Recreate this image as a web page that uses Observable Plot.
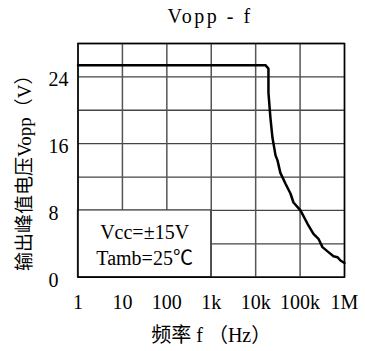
<!DOCTYPE html>
<html>
<head>
<meta charset="utf-8">
<script src="https://cdn.jsdelivr.net/npm/d3@7"></script>
<script src="https://cdn.jsdelivr.net/npm/@observablehq/plot@0.6"></script>
<style>
  html, body { margin: 0; padding: 0; background: #fff; overflow: hidden; }
  #wrap { position: relative; width: 365px; height: 351px; }
  #title {
    position: absolute; left: 110px; top: 6px; width: 200px;
    text-align: center; white-space: pre; line-height: 20px;
    font-family: 'Liberation Serif', 'Noto Sans CJK SC', serif;
    font-size: 20px; letter-spacing: 2.5px; color: #000;
  }
</style>
</head>
<body>
<div id="wrap">
  <div id="title"></div>
</div>
<script>
// ---- data ----
const title = "Vopp - f";
const xLabel = "频率 f （Hz）";
const yLabel = "输出峰值电压Vopp（V）";
const xTicks = [1, 10, 100, 1000, 10000, 100000, 1000000];
const xTickLabels = ["1", "10", "100", "1k", "10k", "100k", "1M"];
const yTicks = [0, 8, 16, 24];
const yGrid = [0, 4, 8, 12, 16, 20, 24, 28];
const freq = [1, 16600, 19400, 19400, 21500, 23900, 28000, 31000, 36000, 47000, 61000, 71000,
              102000, 147000, 200000, 259000, 319000, 435000, 565000, 695000, 811000, 1000000];
const vopp = [25.4, 25.4, 25.0, 22.1, 19.1, 16.7, 14.6, 14.0, 12.5, 11.2, 10.0, 8.95,
              8.0, 6.4, 5.2, 4.6, 3.6, 3.0, 2.5, 2.4, 2.0, 1.7];
const legendLines = ["Vcc=±15V", "Tamb=25℃"];
const legendBox = [{x1: 1, x2: 1000, y1: 0, y2: 8}];

document.getElementById("title").textContent = title;

const fontFamily = "'Liberation Serif', 'Noto Sans CJK SC', serif";
const gridColor = "#444";

const chart = Plot.plot({
  width: 365,
  height: 351,
  marginTop: 43,
  marginBottom: 74.3,
  marginLeft: 77.5,
  marginRight: 21,
  style: {fontFamily, fontSize: "20px", background: "white", color: "black"},
  x: {type: "log", domain: [1, 1000000]},
  y: {domain: [0, 28]},
  marks: [
    Plot.ruleY(yGrid, {stroke: gridColor, strokeWidth: 1.3}),
    Plot.ruleX(xTicks, {stroke: "#555", strokeWidth: 1.5}),
    Plot.rect(legendBox, {x1: "x1", x2: "x2", y1: "y1", y2: "y2", fill: "white", stroke: gridColor, strokeWidth: 1.3}),
    Plot.text(legendBox, {
      x: d => Math.sqrt(d.x1 * d.x2), y: d => (d.y1 + d.y2) / 2,
      text: () => legendLines.join("\n"), lineHeight: 1.3, fontSize: 20, fill: "black"
    }),
    Plot.line(freq.map((f, i) => ({f, v: vopp[i]})), {x: "f", y: "v", stroke: "black", strokeWidth: 2.5, strokeLinejoin: "round"}),
    Plot.frame({stroke: "black", strokeWidth: 1.5}),
    Plot.axisX({
      ticks: xTicks, tickSize: 0, tickPadding: 18, fontSize: 20,
      tickFormat: d => xTickLabels[xTicks.indexOf(d)], label: null
    }),
    Plot.axisY({
      ticks: yTicks, tickSize: 0, tickPadding: 29.5, textAnchor: "start", dy: 3, fontSize: 20,
      tickFormat: d => String(d), label: null
    }),
    Plot.text([yLabel], {text: d => d, frameAnchor: "left", textAnchor: "middle", lineAnchor: "middle",
      rotate: -90, dx: -53, dy: 8, fontSize: 19, fill: "black"}),
    Plot.text([xLabel], {text: d => d, frameAnchor: "bottom", textAnchor: "middle", lineAnchor: "middle",
      dy: 58, fontSize: 20, fill: "black"})
  ]
});
document.getElementById("wrap").appendChild(chart);
</script>
</body>
</html>
